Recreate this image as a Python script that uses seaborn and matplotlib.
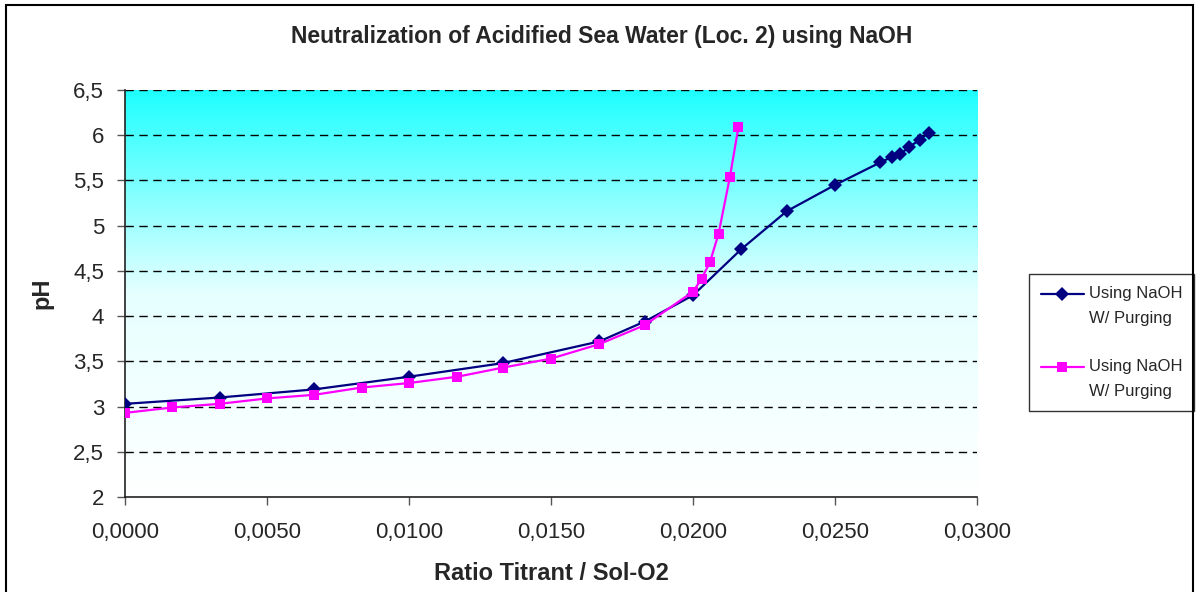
import numpy as np
import pandas as pd
import seaborn as sns
from matplotlib import pyplot as plt, ticker
from matplotlib.colors import LinearSegmentedColormap
from matplotlib.patches import Rectangle

# ratio titrant / sol-O2 and pH readings
ratio_a = [0.0, 0.00333, 0.00667, 0.0100, 0.0133, 0.0167, 0.0183, 0.0200, 0.0217,
           0.0233, 0.0250, 0.0266, 0.0270, 0.0273, 0.0276, 0.0280, 0.0283]
ph_a = [3.03, 3.10, 3.19, 3.33, 3.48, 3.72, 3.94, 4.23, 4.74,
        5.16, 5.45, 5.70, 5.76, 5.79, 5.87, 5.95, 6.03]

ratio_b = [0.0, 0.00167, 0.00333, 0.00500, 0.00667, 0.00833, 0.0100, 0.0117, 0.0133,
           0.0150, 0.0167, 0.0183, 0.0200, 0.0203, 0.0206, 0.0209, 0.0213, 0.0216]
ph_b = [2.93, 2.99, 3.03, 3.09, 3.13, 3.21, 3.26, 3.33, 3.43,
        3.53, 3.69, 3.90, 4.27, 4.41, 4.60, 4.91, 5.54, 6.09]

label_a = "Using NaOH\nW/ Purging"
label_b = "Using NaOH\nW/ Purging "

df = pd.concat([
    pd.DataFrame({'ratio': ratio_a, 'ph': ph_a, 'series': label_a}),
    pd.DataFrame({'ratio': ratio_b, 'ph': ph_b, 'series': label_b}),
], ignore_index=True)

sns.set_style('white')
plt.rcParams['font.family'] = ['Liberation Sans', 'DejaVu Sans']

fig = plt.figure(figsize=(11.98, 5.92), dpi=100)
ax = fig.add_axes([125 / 1198, 1 - 497 / 592, 852 / 1198, 407 / 592])

# cyan-to-white gradient plot area
cmap = LinearSegmentedColormap.from_list('sea', ['#ffffff', '#e6ffff', '#1effff'])
grad = np.linspace(0, 1, 256).reshape(-1, 1)
ax.imshow(grad, cmap=cmap, origin='lower', aspect='auto',
          extent=[0, 0.03, 2, 6.5], zorder=0)

for y in np.arange(2.5, 6.51, 0.5):
    ax.axhline(y, color='black', linewidth=1, linestyle=(0, (6, 4)), zorder=1)

sns.lineplot(df, x='ratio', y='ph', hue='series', style='series', sort=False,
             palette=['#000080', '#ff00ff'], markers=['D', 's'], dashes=False,
             markersize=7, markeredgewidth=0, linewidth=1.6, ax=ax, zorder=3)

ax.set_xlim(0, 0.03)
ax.set_ylim(2, 6.5)
ax.xaxis.set_major_locator(ticker.MultipleLocator(0.005))
ax.yaxis.set_major_locator(ticker.MultipleLocator(0.5))
ax.xaxis.set_major_formatter(ticker.FuncFormatter(lambda v, p: f"{v:.4f}".replace('.', ',')))
ax.yaxis.set_major_formatter(ticker.FuncFormatter(lambda v, p: f"{v:g}".replace('.', ',')))
ax.tick_params(axis='both', which='major', direction='out', length=6, width=1,
               color='#555555', labelsize=16, bottom=True, left=True)
ax.tick_params(axis='x', pad=12)
ax.tick_params(axis='y', pad=9)
for side in ['top', 'right']:
    ax.spines[side].set_visible(False)
for side in ['left', 'bottom']:
    ax.spines[side].set_color('#222222')
    ax.spines[side].set_linewidth(1.2)

ax.set_xlabel('Ratio Titrant / Sol-O2', fontsize=17, fontweight='bold', labelpad=14)
ax.set_ylabel('pH', fontsize=17, fontweight='bold', labelpad=14)
fig.text(0.502, 1 - 36 / 592, 'Neutralization of Acidified Sea Water (Loc. 2) using NaOH',
         ha='center', va='center', fontsize=16.5, fontweight='bold')

leg = ax.legend(loc='upper left', bbox_to_anchor=(1029 / 1198, 1 - 274 / 592),
                bbox_transform=fig.transFigure, borderaxespad=0, fontsize=12,
                frameon=True, fancybox=False, edgecolor='black', handlelength=2.6,
                labelspacing=2.0, borderpad=0.7, handletextpad=0.3)
leg.get_frame().set_linewidth(1)
for t in leg.get_texts():
    t.set_linespacing(1.85)
# put the legend keys level with the first line of each label
for ln in leg.get_lines():
    ln.set_ydata(np.asarray(ln.get_ydata()) + 8.7)

# chart border
fig.add_artist(Rectangle((6 / 1198, -0.05), 1187 / 1198, 1.05 - 5 / 592,
                         transform=fig.transFigure, fill=False,
                         edgecolor='black', linewidth=1.5))

plt.savefig('out.png', dpi=100)
